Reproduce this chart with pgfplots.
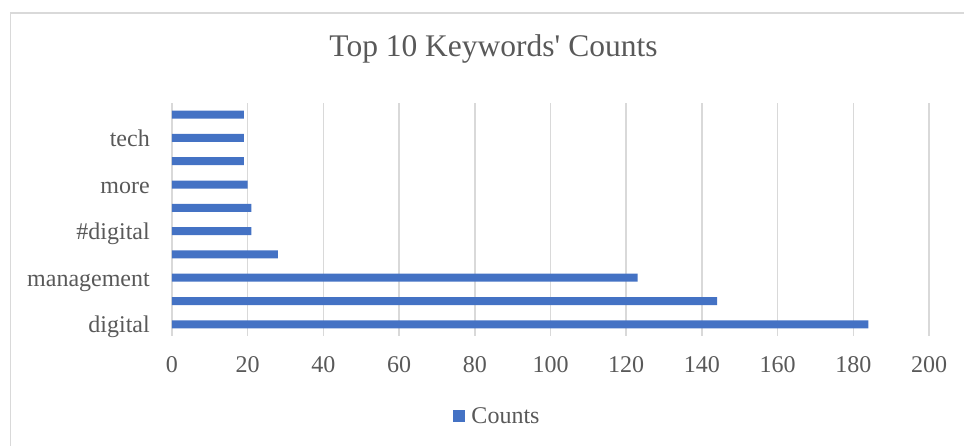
\documentclass[border=0pt]{standalone}
\usepackage{pgfplots}
\pgfplotsset{compat=1.18}
\usepackage{fontspec}
\setmainfont{Liberation Serif}[Ligatures=TeXOff]
\definecolor{barblue}{HTML}{4472C4}
\definecolor{gridgray}{HTML}{D9D9D9}
\definecolor{txtgray}{HTML}{595959}
\begin{document}
\begin{tikzpicture}
\path[use as bounding box] (0pt,0pt) rectangle (964pt,446pt);
\draw[gridgray, line width=1.5pt] (10.5pt,-10pt) -- (10.5pt,433pt) -- (980pt,433pt);
\begin{axis}[
  at={(172pt,110pt)}, anchor=south west,
  scale only axis, width=757pt, height=233pt,
  xbar, bar width=8pt,
  xmin=0, xmax=200, ymin=-0.5, ymax=9.5,
  xtick={0,20,...,200},
  ytick={0,2,4,6,8},
  yticklabels={digital,management,\#digital,more,tech},
  axis line style={draw=none},
  major tick length=0pt,
  xmajorgrids, grid style={gridgray, line width=1.6pt},
  ymajorgrids=false,
  /pgf/number format/assume math mode=true,
  tick label style={font=\fontsize{24}{28}\selectfont, text=txtgray, inner sep=0pt},
  xticklabel style={anchor=base, yshift=-37pt},
  yticklabel style={anchor=base east, xshift=-22pt, yshift=-8.5pt},
  title={Top 10 Keywords' Counts},
  title style={at={(0.4247,1.1717)}, anchor=base, font=\fontsize{31.5}{36}\selectfont, text=txtgray, inner sep=0pt},
  legend style={at={(0.43,-0.343)}, anchor=center, draw=none, fill=none,
    font=\fontsize{24}{28}\selectfont, text=txtgray, inner sep=0pt,
    /tikz/every even column/.append style={column sep=0pt}},
  legend image code/.code={\fill[barblue] (0pt,-6pt) rectangle (12pt,6pt);},
  legend entries={\hspace{4pt}Counts},
]
\addplot[fill=barblue, draw=none] coordinates {
  (184,0) (144,1) (123,2) (28,3) (21,4) (21,5) (20,6) (19,7) (19,8) (19,9)
};
\end{axis}
\end{tikzpicture}
\end{document}
